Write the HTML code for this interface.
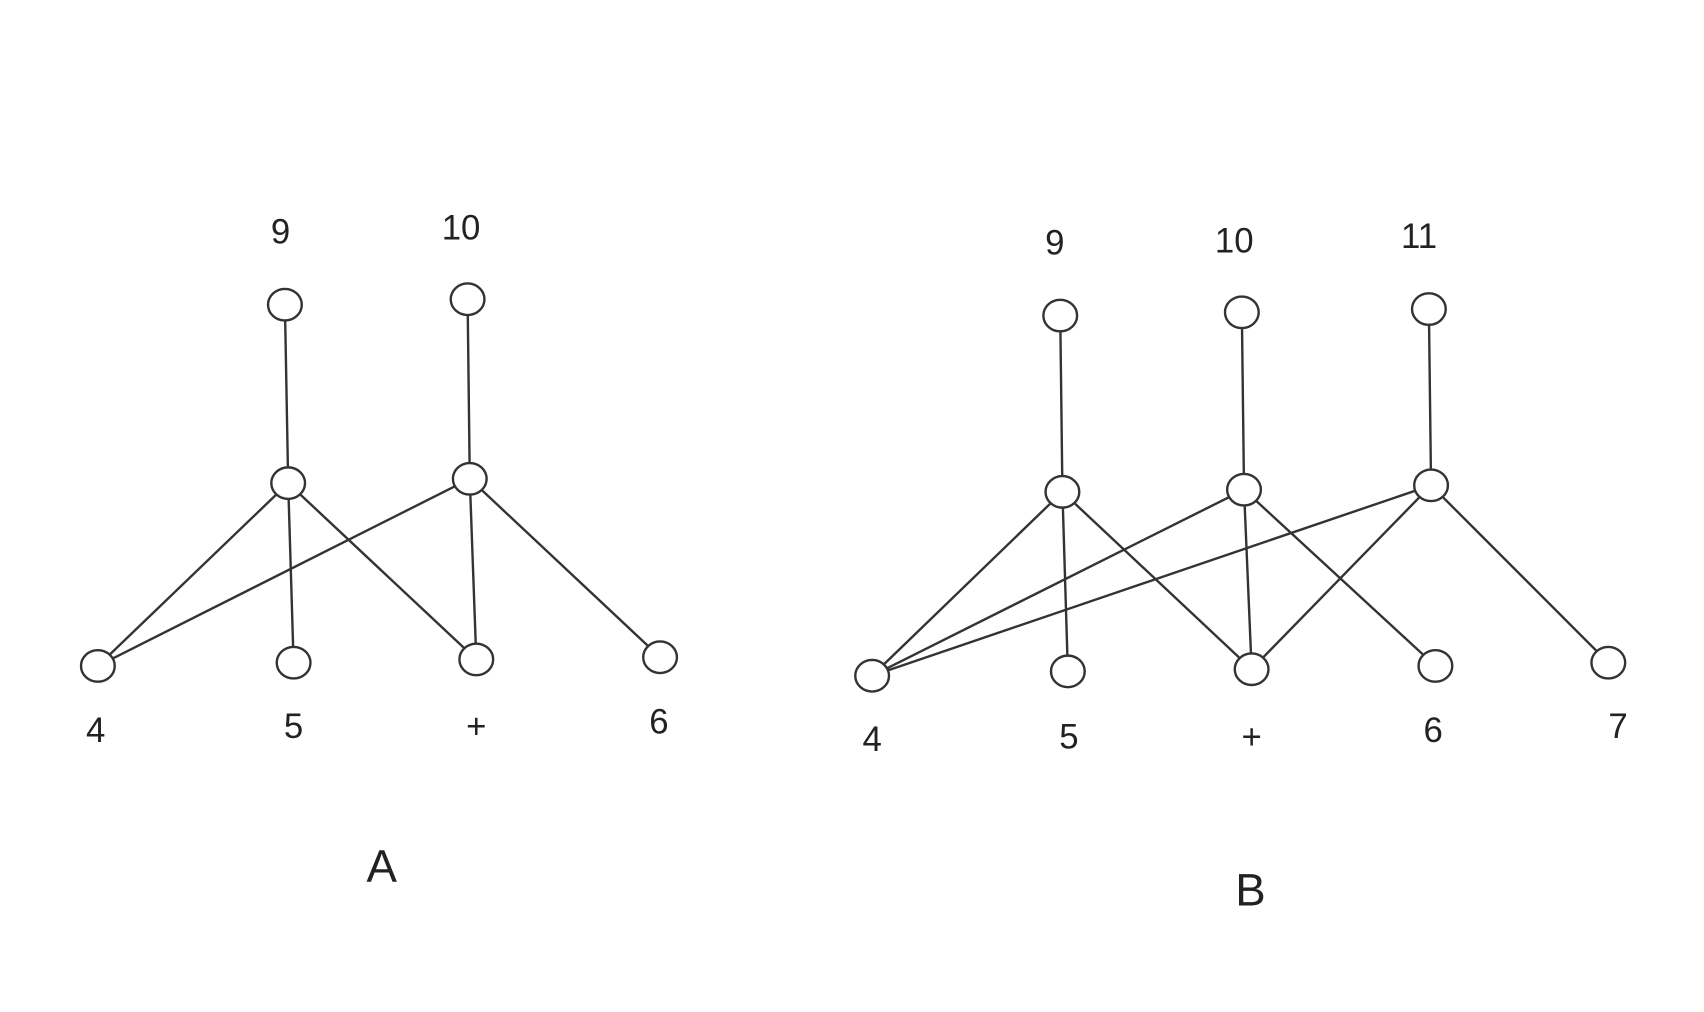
<!DOCTYPE html>
<html><head><meta charset="utf-8"><style>
html,body{margin:0;padding:0;background:#fff;}
svg{display:block;}
text{font-family:"Liberation Sans",sans-serif;fill:#222;text-anchor:middle;}
</style></head><body>
<svg id="chart" width="1704" height="1012" viewBox="0 0 1567 930" preserveAspectRatio="none"></svg>
<script>
const nodeIdsA = ['t9','t10','m9','m10','b4','b5','bp','b6'];
const nodeXA = [262,430,265,432,90,270,438,607];
const nodeYA = [280,275,444,440,612,609,606,604];
const edgesA = [['t9','m9'],['t10','m10'],['m9','b4'],['m9','b5'],['m9','bp'],['m10','b4'],['m10','bp'],['m10','b6']];
const labelsA = ['9','10','4','5','+','6'];
const labelXA = [258,424,88,270,438,606];
const labelYA = [224,220,682,678,678,674];

const nodeIdsB = ['t9','t10','t11','m9','m10','m11','b4','b5','bp','b6','b7'];
const nodeXB = [975,1142,1314,977,1144,1316,802,982,1151,1320,1479];
const nodeYB = [290,287,284,452,450,446,621,617,615,612,609];
const edgesB = [['t9','m9'],['t10','m10'],['t11','m11'],['m9','b4'],['m9','b5'],['m9','bp'],['m10','b4'],['m10','bp'],['m10','b6'],['m11','b4'],['m11','bp'],['m11','b7']];
const labelsB = ['9','10','11','4','5','+','6','7'];
const labelXB = [970,1135,1305,802,983,1151,1318,1488];
const labelYB = [234,232,228,690,688,688,682,678];

const NS='http://www.w3.org/2000/svg';
const svg=document.getElementById('chart');
function draw(prefix, ids, xs, ys, edges, labels, lx, ly, title, tx, ty){
  const g=document.createElementNS(NS,'g');
  
  
  svg.appendChild(g);
  const pos={};
  ids.forEach((id,i)=>pos[id]=[xs[i],ys[i]]);
  edges.forEach(e=>{
    const l=document.createElementNS(NS,'line');
    
    
    l.setAttribute('x1',pos[e[0]][0]);l.setAttribute('y1',pos[e[0]][1]);
    l.setAttribute('x2',pos[e[1]][0]);l.setAttribute('y2',pos[e[1]][1]);
    l.setAttribute('stroke','#333');l.setAttribute('stroke-width','2.2');
    g.appendChild(l);
  });
  ids.forEach((id,i)=>{
    const c=document.createElementNS(NS,'ellipse');
    
    
    c.setAttribute('cx',xs[i]);c.setAttribute('cy',ys[i]);
    c.setAttribute('rx',15.5);c.setAttribute('ry',14.5);
    c.setAttribute('fill','#fff');c.setAttribute('stroke','#333');c.setAttribute('stroke-width','2.2');
    g.appendChild(c);
  });
  labels.forEach((t,i)=>{
    const tt=document.createElementNS(NS,'text');
    
    
    tt.setAttribute('x',lx[i]);tt.setAttribute('y',ly[i]);
    tt.setAttribute('font-size','32');
    tt.textContent=t;g.appendChild(tt);
  });
  const T=document.createElementNS(NS,'text');
  
  
  T.setAttribute('x',tx);T.setAttribute('y',ty);T.setAttribute('font-size','42');
  T.textContent=title;g.appendChild(T);
}
draw('a',nodeIdsA,nodeXA,nodeYA,edgesA,labelsA,labelXA,labelYA,'A',351,810);
draw('b',nodeIdsB,nodeXB,nodeYB,edgesB,labelsB,labelXB,labelYB,'B',1150,832);
</script>
</body></html>
